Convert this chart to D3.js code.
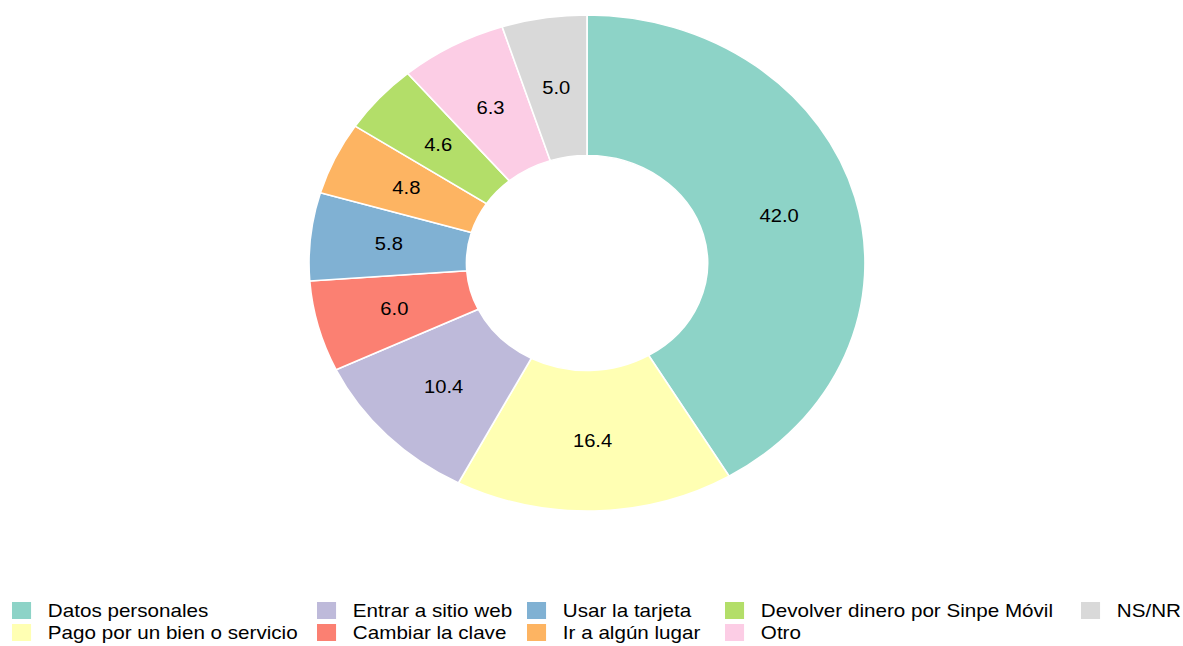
<!DOCTYPE html>
<html>
<head>
<meta charset="utf-8">
<script src="https://cdn.jsdelivr.net/npm/d3@7"></script>
<style>
  body { margin: 0; background: #fff; }
  text { font-family: "Liberation Sans", Arial, sans-serif; fill: #000; }
</style>
</head>
<body>
<div id="chart"></div>
<script>
// categories, in the order they go round the ring (clockwise from 12 o'clock)
var categories = ["Datos personales", "Pago por un bien o servicio", "Entrar a sitio web",
    "Cambiar la clave", "Usar la tarjeta", "Ir a algún lugar",
    "Devolver dinero por Sinpe Móvil", "Otro", "NS/NR"];
var values = [42.0, 16.4, 10.4, 6.0, 5.8, 4.8, 4.6, 6.3, 5.0];
var colors = ["#8DD3C7", "#FFFFB3", "#BEBADA", "#FB8072", "#80B1D3",
    "#FDB462", "#B3DE69", "#FCCDE5", "#D9D9D9"];

var w = 1183;
var h = 646;
var sx = 1.121; // the picture is a bit wider than tall, so everything is stretched in x
var cx = 587 / sx, cy = 263;
var outer = 248, inner = 107.5;

var svg = d3.select("#chart")
    .append("svg")
    .attr("width", w)
    .attr("height", h);

var g = svg.append("g")
    .attr("transform", "scale(" + sx + ",1)");

var data = categories.map(function (c, i) {
    return { name: c, value: values[i], color: colors[i] };
});

var pie = d3.pie()
    .sort(null)
    .value(function (d) { return d.value; });

var arc = d3.arc()
    .innerRadius(inner)
    .outerRadius(outer);

var labelArc = d3.arc()
    .innerRadius((inner + outer) / 2)
    .outerRadius((inner + outer) / 2);

var ring = g.append("g")
    .attr("transform", "translate(" + cx + "," + cy + ")");

ring.selectAll("path")
    .data(pie(data))
    .enter().append("path")
    .attr("d", arc)
    .attr("fill", function (d) { return d.data.color; })
    .attr("stroke", "#fff")
    .attr("stroke-width", 1.5);

ring.selectAll("text")
    .data(pie(data))
    .enter().append("text")
    .attr("transform", function (d) { return "translate(" + labelArc.centroid(d) + ")"; })
    .attr("text-anchor", "middle")
    .attr("dy", "0.35em")
    .style("font-size", "18px")
    .text(function (d) { return d3.format(".1f")(d.data.value); });

// legend: 2 rows, filled column by column
var rows = 2;
var keySize = 17;
var rowY = [602, 624];
var colX = [12, 317, 527, 725, 1081].map(function (v) { return v / sx; });
var legend = g.append("g");

data.forEach(function (d, i) {
    var c = Math.floor(i / rows), r = i % rows;
    legend.append("rect")
        .attr("x", colX[c])
        .attr("y", rowY[r])
        .attr("width", keySize)
        .attr("height", keySize)
        .attr("fill", d.color);
    legend.append("text")
        .attr("x", colX[c] + 32)
        .attr("y", rowY[r] + keySize / 2 + 6.5)
        .style("font-size", "18.4px")
        .text(d.name);
});
</script>
</body>
</html>
